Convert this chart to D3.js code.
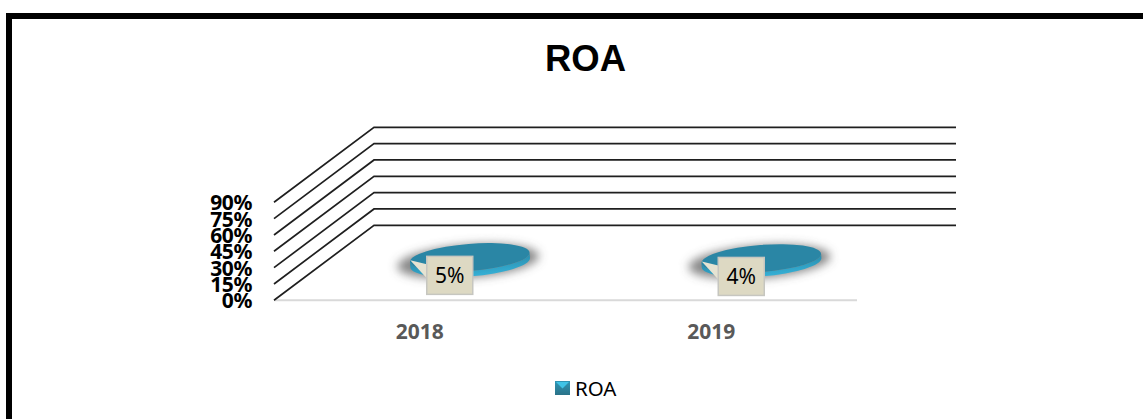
<!DOCTYPE html>
<html><head><meta charset="utf-8">
<script src="https://cdnjs.cloudflare.com/ajax/libs/d3/7.8.5/d3.min.js"></script>
<style>html,body{margin:0;padding:0;background:#fff;overflow:hidden}svg{display:block}</style>
</head><body><svg id="c" width="1143" height="419"></svg>
<script>
const chartTitle = "ROA";
const categories = ["2018", "2019"];
const seriesName = "ROA";
const roaValues = [5, 4];
const yTicks = [0, 15, 30, 45, 60, 75, 90];

const svg = d3.select("#c");
const defs = svg.append("defs");
const x = d3.scaleBand().domain(categories).range([274, 857]);
const y = d3.scaleLinear().domain([0, 90]).range([300.3, 202.3]);
const depth = {dx: 100, dy: -75};

const blur = defs.append("filter").attr("id","blur").attr("x","-30%").attr("y","-100%").attr("width","160%").attr("height","300%");
blur.append("feGaussianBlur").attr("stdDeviation",5);
const side = defs.append("linearGradient").attr("id","side").attr("x1",0).attr("x2",0).attr("y1",0).attr("y2",1);
side.append("stop").attr("offset",0).attr("stop-color","#2a89a8");
side.append("stop").attr("offset",1).attr("stop-color","#35b0d6");
const sw = defs.append("linearGradient").attr("id","sw").attr("x1",0).attr("x2",0).attr("y1",0).attr("y2",1);
sw.append("stop").attr("offset",0).attr("stop-color","#2f95b5");
sw.append("stop").attr("offset",1).attr("stop-color","#2a7288");

// frame
svg.append("path").attr("d","M9,419V16H1143").attr("fill","none").attr("stroke","#000").attr("stroke-width",6);

// title
svg.append("text").attr("x",585.5).attr("y",71).attr("text-anchor","middle")
  .attr("font-family","Liberation Sans").attr("font-weight",700).attr("font-size",36.5).attr("fill","#000").text(chartTitle);

// floor line
svg.append("line").attr("x1",x.range()[0]).attr("x2",x.range()[1]).attr("y1",y(0)).attr("y2",y(0))
  .attr("stroke","#d9d9d9").attr("stroke-width",2);

// gridlines
svg.append("g").selectAll("path").data(yTicks).join("path")
  .attr("fill","none").attr("stroke","#1f1f1f").attr("stroke-width",1.7)
  .attr("d", t => d3.line()([[x.range()[0], y(t)], [x.range()[0]+depth.dx, y(t)+depth.dy], [956, y(t)+depth.dy]]));

// y tick labels
svg.append("g").selectAll("text").data(yTicks).join("text")
  .attr("x",252).attr("y",t => y(t)+8).attr("text-anchor","end")
  .attr("font-family","Noto Sans").attr("font-weight",700).attr("font-size",21).attr("letter-spacing",-0.4).attr("fill","#000")
  .text(t => t+"%");

// x labels
svg.append("g").selectAll("text").data(categories).join("text")
  .attr("x",c => x(c)+x.bandwidth()/2).attr("y",339).attr("text-anchor","middle")
  .attr("font-family","Noto Sans").attr("font-weight",700).attr("font-size",21).attr("fill","#595959")
  .text(c => c);

// discs
const rx = 60, ry = 13.5, rot = -4.5;
const pts = categories.map((c,i) => ({c, v:roaValues[i],
  cx:x(c)+x.bandwidth()/2+depth.dx/2, base:y(0)+depth.dy/2, h:y(0)-y(roaValues[i])}));
const g = svg.append("g").selectAll("g").data(pts).join("g")
  .attr("transform",d => `translate(${d.cx},${d.base-d.h}) rotate(${rot})`);
g.append("ellipse").attr("cx",-2).attr("cy",d=>d.h/2+1).attr("rx",rx+11).attr("ry",ry+3)
  .attr("fill","#555").attr("fill-opacity",.7).attr("filter","url(#blur)");
g.append("path").attr("fill","url(#side)")
  .attr("d",d => `M${-rx},0A${rx},${ry} 0 0 0 ${rx},0L${rx},${d.h}A${rx},${ry} 0 0 1 ${-rx},${d.h}Z`);
g.append("ellipse").attr("rx",rx).attr("ry",ry).attr("fill","#2a86a5");

// callouts
const bw = 46, bh = 38;
const lab = svg.append("g").selectAll("g").data(pts).join("g")
  .attr("transform",d => `translate(${d.cx-43},${d.base-d.h-1})`);
lab.append("path").attr("fill","#e6e3d2").attr("stroke","none")
  .attr("d",`M${0},${8}L${-16.5},${4}L${0},${22}Z`);
lab.append("rect").attr("width",bw).attr("height",bh).attr("fill","#ddd9c3").attr("stroke","#c6c6c0").attr("stroke-width",1.5);
lab.append("text").attr("x",bw/2).attr("y",bh/2+8).attr("text-anchor","middle")
  .attr("font-family","Noto Sans").attr("font-size",21).attr("fill","#000").text(d => d.v+"%");

// legend
const s = 15, lx = 555, ly = 381;
const lg = svg.append("g").attr("transform",`translate(${lx},${ly})`);
lg.append("rect").attr("width",s).attr("height",s-1).attr("fill","url(#sw)");
lg.append("path").attr("d",`M1,1H${s-1}L${s/2},${s/2}Z`).attr("fill","#3fc3e6");
lg.append("text").attr("x",20).attr("y",14.5).attr("font-family","Noto Sans").attr("font-size",20.5).attr("fill","#000").text(seriesName);
</script></body></html>
